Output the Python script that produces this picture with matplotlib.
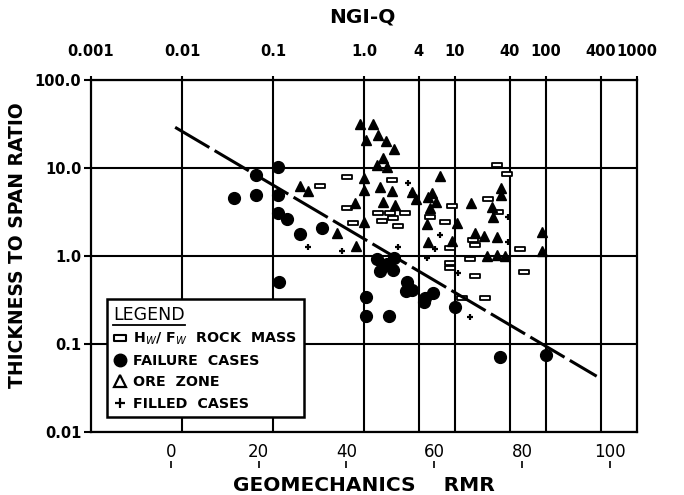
import numpy as np
import matplotlib
matplotlib.use('Agg')
import matplotlib.pyplot as plt
from matplotlib.path import Path
from matplotlib.lines import Line2D
from matplotlib.ticker import NullLocator

plt.rcParams['font.family'] = ['DejaVu Sans']

# Q <-> RMR relation used for the two x scales: RMR = 9 ln Q + 44
def rmr_to_q(r):
    return np.exp((np.asarray(r, dtype=float) - 44.0) / 9.0)

def q_to_rmr(q):
    with np.errstate(divide='ignore', invalid='ignore'):
        return 9.0 * np.log(np.asarray(q, dtype=float)) + 44.0

def same(x):
    return np.asarray(x, dtype=float)

# Data (RMR, thickness/span ratio)
fail_rmr = [14.4, 19.4, 19.4, 24.4, 24.4, 24.4, 26.5, 29.4, 34.4, 24.6,
            47.0, 50.8, 47.6, 50.6, 49.2, 53.8, 54.9, 53.6, 57.9, 59.7,
            57.7, 64.7, 44.4, 44.4, 49.7, 75.0, 85.4]
fail_ratio = [4.6, 8.3, 4.9, 10.3, 4.9, 3.1, 2.6, 1.8, 2.1, 0.51,
              0.93, 0.95, 0.68, 0.70, 0.81, 0.51, 0.41, 0.40, 0.33, 0.38,
              0.30, 0.26, 0.34, 0.21, 0.21, 0.071, 0.075]

ore_rmr = [29.4, 31.2, 37.8, 41.9, 42.2, 43.1, 46.0, 47.2, 44.4, 49.0,
           50.8, 48.3, 47.0, 49.2, 47.6, 50.4, 48.3, 51.0, 44.0, 44.0,
           44.0, 54.9, 55.8, 61.3, 59.5, 60.4, 58.6, 59.0, 68.4, 65.2,
           58.3, 75.2, 75.2, 73.1, 73.4, 58.6, 64.0, 69.3, 71.3, 74.3,
           84.5, 84.5, 72.0, 74.3, 76.1]
ore_ratio = [6.2, 5.5, 1.83, 4.0, 1.30, 32.0, 31.6, 23.7, 20.8, 20.3,
             16.4, 13.0, 10.8, 10.3, 6.1, 5.5, 4.1, 3.8, 7.7, 5.6,
             2.43, 5.3, 4.4, 8.1, 5.2, 4.1, 4.7, 3.5, 4.0, 2.37,
             2.31, 5.9, 4.9, 3.6, 2.77, 1.44, 1.48, 1.83, 1.69, 1.64,
             1.87, 1.14, 1.0, 1.03, 1.0]

rock_rmr = [34.0, 40.1, 40.1, 41.5, 50.4, 47.2, 49.9, 53.3, 51.7, 48.1,
            50.6, 64.0, 72.2, 74.5, 59.0, 62.4, 68.8, 69.3, 63.6, 79.5,
            68.1, 63.6, 63.6, 74.3, 76.6, 69.3, 80.4, 71.5, 66.3]
rock_ratio = [6.2, 7.9, 3.5, 2.37, 7.3, 3.08, 3.08, 3.08, 2.19, 2.5,
              2.7, 3.7, 4.4, 3.16, 2.77, 2.43, 1.52, 1.33, 1.23, 1.20,
              0.92, 0.83, 0.73, 10.8, 8.5, 0.59, 0.66, 0.333, 0.333]

filled_rmr = [31.2, 39.0, 54.0, 54.9, 51.7, 61.3, 60.2, 58.3, 76.8, 76.8, 68.1, 65.4]
filled_ratio = [1.27, 1.14, 6.8, 5.2, 1.27, 1.73, 1.20, 0.95, 2.77, 1.44, 0.20, 0.64]

trend_rmr = [1.0, 97.0]
trend_ratio = [29.0, 0.043]

q_ticks = [0.001, 0.01, 0.1, 1.0, 4, 10, 40, 100, 400, 1000]
q_labels = ['0.001', '0.01', '0.1', '1.0', '4', '10', '40', '100', '400', '1000']
y_ticks = [0.01, 0.1, 1, 10, 100]
y_labels = ['0.01', '0.1', '1.0', '10.0', '100.0']
rmr_ticks = [0, 20, 40, 60, 80, 100]

# small open rectangle marker
rect_marker = Path([(-1, -0.55), (1, -0.55), (1, 0.55), (-1, 0.55), (-1, -0.55)],
                   [Path.MOVETO, Path.LINETO, Path.LINETO, Path.LINETO, Path.CLOSEPOLY])

fig = plt.figure(figsize=(6.84, 4.95), dpi=100)
ax = fig.add_axes([0.133, 0.1273, 0.7982, 0.7111])
ax.set_yscale('log')
ax.set_xlim(q_to_rmr(q_ticks[0]), q_to_rmr(q_ticks[-1]))
ax.set_ylim(0.01, 100)
ax.set_xticks([])

ax.set_yticks(y_ticks, labels=y_labels)
ax.yaxis.set_minor_locator(NullLocator())
ax.tick_params(axis='y', which='major', direction='out', length=5, width=1.5,
               pad=2, labelsize=10.5)
for lbl in ax.get_yticklabels():
    lbl.set_fontweight('bold')

for s in ax.spines.values():
    s.set_linewidth(1.6)
ax.grid(True, axis='y', which='major', color='k', lw=1.5)
for q in q_ticks[1:-1]:
    ax.axvline(q_to_rmr(q), color='k', lw=1.5, zorder=1.5)

# top axis: NGI-Q
top = ax.secondary_xaxis('top', functions=(rmr_to_q, q_to_rmr))
top.set_xticks(q_ticks, labels=q_labels)
top.xaxis.set_minor_locator(NullLocator())
top.spines['top'].set_visible(False)
top.tick_params(axis='x', which='major', direction='out', length=3, width=1.5,
                pad=12, labelsize=10.5)
for lbl in top.get_xticklabels():
    lbl.set_fontweight('bold')

# bottom axis: Geomechanics RMR (labels sit below the frame with a small tick under each)
bot = ax.secondary_xaxis(-0.102, functions=(same, same))
bot.set_xticks(rmr_ticks, labels=[str(t) for t in rmr_ticks])
bot.xaxis.set_minor_locator(NullLocator())
for s in bot.spines.values():
    s.set_visible(False)
bot.xaxis.set_ticks_position('top')
bot.tick_params(axis='x', direction='out', length=5, width=1.2, pad=0,
                labelsize=12)

# data
ax.plot(rock_rmr, rock_ratio, ls='none', marker=rect_marker, ms=6.5,
        mfc='white', mec='k', mew=1.3, zorder=3)
ax.plot(ore_rmr, ore_ratio, ls='none', marker='^', ms=6.5,
        mfc='k', mec='k', zorder=3)
ax.plot(filled_rmr, filled_ratio, ls='none', marker='+', ms=5,
        mec='k', mew=1.6, zorder=3)
ax.plot(fail_rmr, fail_ratio, ls='none', marker='o', ms=8.5,
        mfc='k', mec='k', zorder=4)
ax.plot(trend_rmr, trend_ratio, color='k', lw=2.2, dashes=(13, 2), zorder=4)

ax.set_xlabel('GEOMECHANICS    RMR', fontsize=14.5, fontweight='bold', labelpad=32)
ax.set_ylabel('THICKNESS TO SPAN RATIO', fontsize=13.5, fontweight='bold')
ax.yaxis.set_label_coords(-0.118, 0.53)
fig.suptitle('NGI-Q', x=0.53, y=0.985, fontsize=14.5, fontweight='bold')

# legend
handles = [
    Line2D([], [], ls='none', marker=rect_marker, ms=8, mfc='white', mec='k', mew=1.5),
    Line2D([], [], ls='none', marker='o', ms=9, mfc='k', mec='k'),
    Line2D([], [], ls='none', marker='^', ms=9, mfc='white', mec='k', mew=1.6),
    Line2D([], [], ls='none', marker='+', ms=7, mec='k', mew=1.6),
]
labels = [r'H$_W$/ F$_W$  ROCK  MASS', 'FAILURE  CASES', 'ORE  ZONE', 'FILLED  CASES']
leg = ax.legend(handles, labels, title='LEGEND', loc='lower left',
                bbox_to_anchor=(0.0293, 0.0426), borderaxespad=0, frameon=True,
                fancybox=False, edgecolor='k', framealpha=1, handlelength=0.9,
                handletextpad=0.5, labelspacing=0.5, borderpad=0.45,
                prop=dict(weight='bold', size=10.3),
                title_fontproperties=dict(size=12.5), alignment='left')
leg.get_frame().set_linewidth(1.8)
leg.set_zorder(10)

# underline the legend title
fig.canvas.draw()
bb = leg.get_title().get_window_extent(fig.canvas.get_renderer())
inv = fig.transFigure.inverted()
(x0, y0), (x1, _) = inv.transform([(bb.x0, bb.y0 - 1), (bb.x1, bb.y0 - 1)])
fig.add_artist(Line2D([x0, x1], [y0, y0], color='k', lw=1.3, zorder=11))

fig.savefig('out.png', dpi=100)
